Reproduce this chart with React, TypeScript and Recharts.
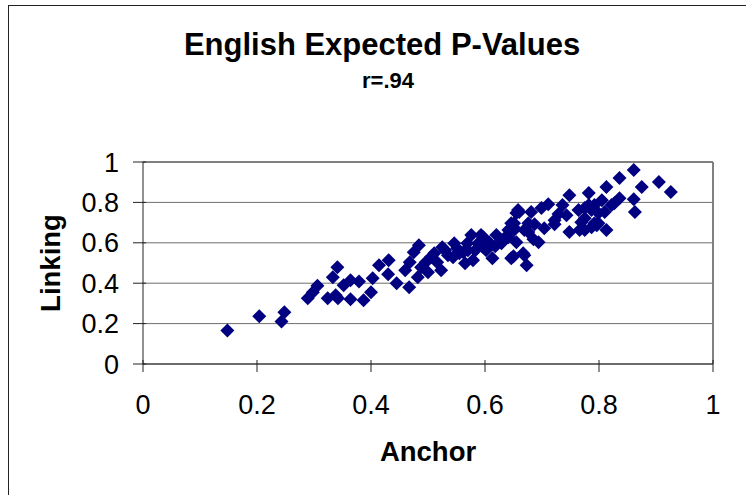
import React from 'react';
import { ScatterChart, Scatter, XAxis, YAxis, CartesianGrid, ReferenceLine } from 'recharts';

const anchorValues = [
  0.148, 0.204, 0.243, 0.248, 0.289, 0.298, 0.306, 0.324, 0.333, 0.341,
  0.338, 0.342, 0.352, 0.364, 0.364, 0.379, 0.387, 0.400, 0.403, 0.414,
  0.431, 0.430, 0.445, 0.467, 0.468, 0.475, 0.484, 0.482, 0.488, 0.500,
  0.505, 0.511, 0.523, 0.525, 0.535, 0.546, 0.544, 0.555, 0.562, 0.565,
  0.576, 0.570, 0.579, 0.588, 0.593, 0.597, 0.597, 0.613, 0.607, 0.620,
  0.629, 0.634, 0.641, 0.646, 0.650, 0.651, 0.655, 0.650, 0.667, 0.673,
  0.669, 0.676, 0.669, 0.646, 0.660, 0.655, 0.687, 0.694, 0.685, 0.704,
  0.711, 0.729, 0.722, 0.748, 0.748, 0.743, 0.766, 0.764, 0.782, 0.787,
  0.775, 0.799, 0.799, 0.861, 0.836, 0.905, 0.926, 0.875, 0.861, 0.863,
  0.813, 0.836, 0.822, 0.813, 0.782, 0.736, 0.722, 0.699, 0.681, 0.676,
  0.658, 0.651, 0.641, 0.805, 0.827, 0.792, 0.787, 0.775, 0.810, 0.769,
  0.792, 0.775, 0.796, 0.516, 0.530, 0.551, 0.569, 0.583, 0.602, 0.618,
  0.460, 0.496,
];

const linkingValues = [
  0.166, 0.236, 0.211, 0.256, 0.325, 0.355, 0.387, 0.325, 0.429, 0.479,
  0.340, 0.325, 0.390, 0.414, 0.320, 0.409, 0.315, 0.355, 0.424, 0.489,
  0.514, 0.444, 0.400, 0.380, 0.504, 0.553, 0.588, 0.429, 0.479, 0.454,
  0.529, 0.548, 0.464, 0.578, 0.538, 0.598, 0.529, 0.548, 0.553, 0.499,
  0.638, 0.563, 0.514, 0.598, 0.638, 0.628, 0.578, 0.524, 0.603, 0.638,
  0.598, 0.623, 0.663, 0.524, 0.677, 0.697, 0.747, 0.534, 0.548, 0.489,
  0.663, 0.697, 0.538, 0.697, 0.752, 0.603, 0.692, 0.603, 0.618, 0.672,
  0.791, 0.742, 0.692, 0.836, 0.653, 0.737, 0.663, 0.762, 0.846, 0.677,
  0.722, 0.747, 0.697, 0.960, 0.921, 0.901, 0.851, 0.876, 0.816, 0.752,
  0.876, 0.821, 0.787, 0.663, 0.787, 0.787, 0.712, 0.772, 0.752, 0.653,
  0.762, 0.663, 0.628, 0.811, 0.796, 0.787, 0.762, 0.772, 0.752, 0.702,
  0.697, 0.663, 0.687, 0.504, 0.563, 0.573, 0.598, 0.563, 0.563, 0.583,
  0.464, 0.504,
];

const xTicks = [0, 0.2, 0.4, 0.6, 0.8, 1];
const yTicks = [0, 0.2, 0.4, 0.6, 0.8, 1];
const chartTitle = 'English Expected P-Values';
const chartSubtitle = 'r=.94';
const xTitle = 'Anchor';
const yTitle = 'Linking';

const data = anchorValues.map((a, i) => ({ anchor: a, linking: linkingValues[i] }));

const FONT = '"Liberation Sans", Arial, sans-serif';
const MARKER = '#000080';

const Diamond = (props: any) => {
  const { cx, cy } = props;
  if (cx == null || cy == null) return null;
  const r = 7;
  return (
    <path
      d={`M${cx},${cy - r}L${cx + r},${cy}L${cx},${cy + r}L${cx - r},${cy}Z`}
      fill={MARKER}
    />
  );
};

// tick marks that cross the axis line, as in the reference
const XTick = (props: any) => {
  const { x, y, payload } = props;
  const axisY = y - 31;
  return (
    <g>
      <line x1={x} x2={x} y1={axisY - 4} y2={axisY + 8} stroke="#222" />
      <text x={x} y={y} dy="0.71em" textAnchor="middle" fontSize={27} fontFamily={FONT} fill="#000">
        {payload.value}
      </text>
    </g>
  );
};

const YTick = (props: any) => {
  const { x, y, payload } = props;
  const axisX = x + 24;
  return (
    <g>
      <line x1={axisX - 10} x2={axisX + 3} y1={y} y2={y} stroke="#222" />
      <text x={x} y={y} dy="0.355em" textAnchor="end" fontSize={27} fontFamily={FONT} fill="#000">
        {payload.value}
      </text>
    </g>
  );
};

export default function App() {
  return (
    <div style={{ position: 'absolute', left: 0, top: 0, width: 746, height: 495, overflow: 'hidden', background: '#fff' }}>
      <div
        style={{
          position: 'absolute',
          left: 8,
          top: 5,
          width: 738,
          height: 490,
          borderLeft: '1px solid #222',
          borderTop: '1px solid #222',
          boxSizing: 'border-box',
        }}
      />
      <div style={{ position: 'absolute', left: 0, top: 0 }}>
        <ScatterChart width={746} height={495} margin={{ top: 162, right: 33, left: 43, bottom: 31 }}>
          <CartesianGrid horizontal vertical={false} stroke="#6e6e6e" />
          <XAxis
            type="number"
            dataKey="anchor"
            domain={[0, 1]}
            ticks={xTicks}
            height={100}
            tickSize={8}
            tickMargin={23}
            tickLine={false}
            stroke="#222"
            tick={<XTick />}
          />
          <YAxis
            type="number"
            dataKey="linking"
            domain={[0, 1]}
            ticks={yTicks}
            width={100}
            tickSize={10}
            tickMargin={14}
            tickLine={false}
            stroke="#222"
            tick={<YTick />}
          />
          <ReferenceLine x={1} stroke="#808080" strokeWidth={2} />
          <ReferenceLine y={1} stroke="#808080" strokeWidth={2} />
          <Scatter data={data} shape={Diamond} fill={MARKER} isAnimationActive={false} />
        </ScatterChart>
      </div>
      <svg
        width={746}
        height={495}
        style={{ position: 'absolute', left: 0, top: 0, pointerEvents: 'none' }}
      >
        <text x={382} y={55} textAnchor="middle" fontFamily={FONT} fontWeight="bold" fontSize={31} fill="#000">
          {chartTitle}
        </text>
        <text x={388} y={88} textAnchor="middle" fontFamily={FONT} fontWeight="bold" fontSize={22} fill="#000">
          {chartSubtitle}
        </text>
        <text x={428} y={461} textAnchor="middle" fontFamily={FONT} fontWeight="bold" fontSize={27.5} fill="#000">
          {xTitle}
        </text>
        <text
          transform="translate(60,263) rotate(-90)"
          textAnchor="middle"
          fontFamily={FONT}
          fontWeight="bold"
          fontSize={27.5}
          fill="#000"
        >
          {yTitle}
        </text>
      </svg>
    </div>
  );
}
